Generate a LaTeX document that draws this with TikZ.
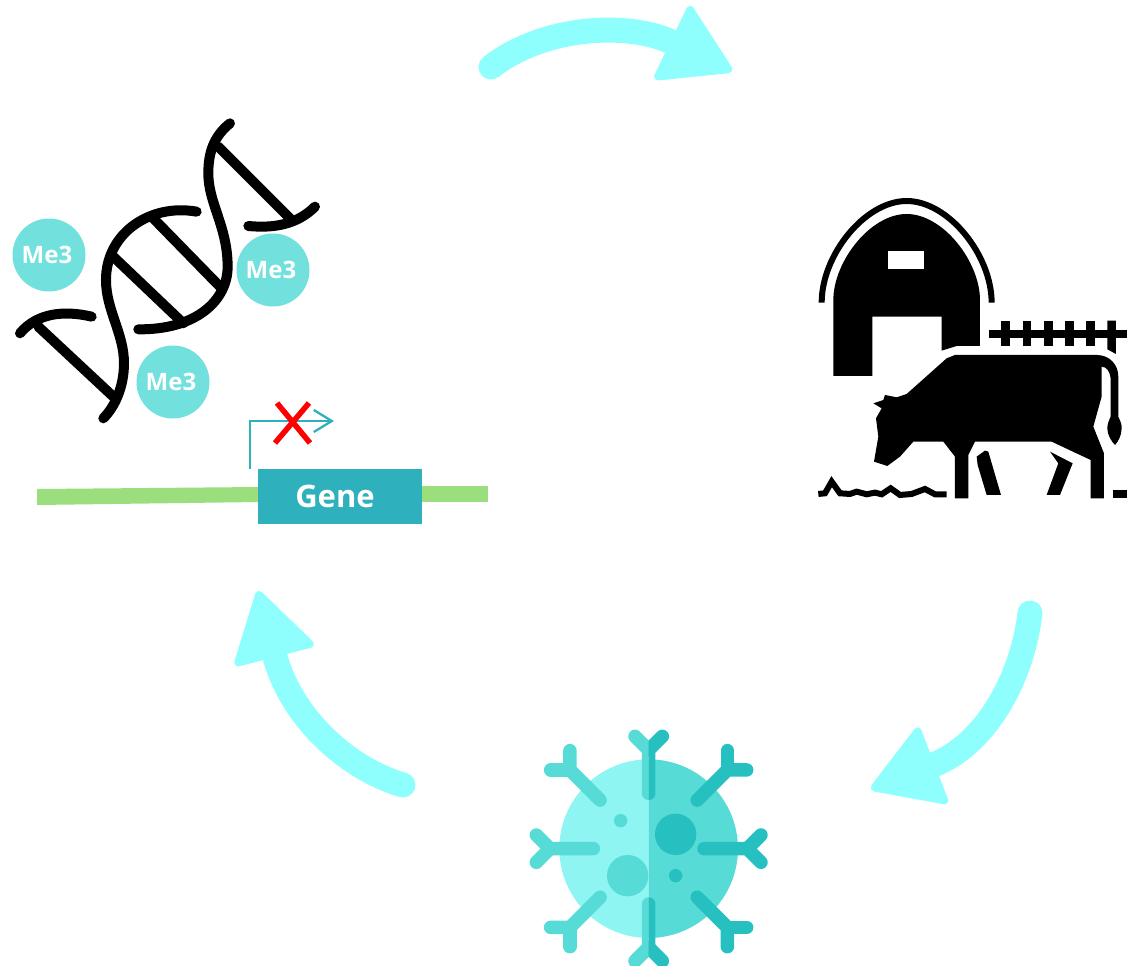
\documentclass[tikz,border=0pt]{standalone}
\usepackage{fontspec}
\setmainfont{Open Sans}
\usepackage{xcolor}
\usetikzlibrary{positioning,arrows.meta}
\definecolor{cycCol}{HTML}{8FFFFE}
\definecolor{meCol}{HTML}{72E0DD}
\definecolor{geneCol}{HTML}{2EB1BC}
\definecolor{lineCol}{HTML}{9BDE7E}
\definecolor{cellLight}{HTML}{8FF5F2}
\definecolor{cellMid}{HTML}{57DBD6}
\definecolor{cellDark}{HTML}{27C0C0}
\begin{document}
\begin{tikzpicture}[
        x=1pt, y=-1pt,
        cyc/.style={draw=cycCol, line width=25pt, line cap=round,
                    -{Triangle[length=72pt,width=86pt,round,line width=8pt]}},
        me/.style={circle, fill=meCol, minimum size=73pt, inner sep=0pt,
                   text=white, font=\bfseries\fontsize{24}{24}\selectfont},
        dna/.style={draw=black, line width=10pt, line cap=round, line join=round},
        arm/.style={line width=13.5pt, line cap=round, line join=round}
    ]
        \useasboundingbox (0,0) rectangle (1127,966);

        \coordinate (dnaout) at (491,67);
        \coordinate (barnin) at (732,71);
        \coordinate (barnout) at (1030,613);
        \coordinate (cellin) at (871,789);
        \coordinate (cellout) at (403,785);
        \coordinate (dnain) at (258,591);

        \draw[cyc] (dnaout) .. controls (545,25) and (630,22) .. (barnin);
        \draw[cyc] (barnout) .. controls (1022,680) and (985,745) .. (cellin);
        \draw[cyc] (cellout) .. controls (345,768) and (290,715) .. (dnain);

        \begin{scope}[shift={(0,110)},scale=0.3333]
            \draw[dna] (690,40) .. controls (640,80) and (625,130) .. (625,190)
                .. controls (625,280) and (683,350) .. (683,470)
                .. controls (683,570) and (590,660) .. (415,658);
            \draw[dna] (590,305) .. controls (450,280) and (318,370) .. (318,510)
                .. controls (318,600) and (372,670) .. (372,760)
                .. controls (372,830) and (345,890) .. (310,925);
            \draw[dna] (945,290) .. controls (890,345) and (820,355) .. (745,348);
            \draw[dna] (275,620) .. controls (190,600) and (110,610) .. (60,670);
            \draw[dna] (655,110) -- (870,325);
            \draw[dna] (115,650) -- (340,860);
            \draw[dna] (340,440) -- (550,640);
            \draw[dna] (455,320) -- (660,530);
        \end{scope}

        \node[me] (meleft) at (49,255) {\kern-4ptMe3};
        \node[me] (meright) at (273,270) {\kern-4ptMe3};
        \node[me] (mebottom) at (173,382) {\kern-4ptMe3};

        \fill[lineCol] (37,489) -- (260,487) -- (260,502) -- (37,505) -- cycle;
        \fill[lineCol] (420,486) rectangle (488,502);
        \node[fill=geneCol, text=white, minimum width=164pt, minimum height=55pt, inner sep=0pt,
              font=\bfseries\fontsize{31}{31}\selectfont] (gene) at (340,496) {\kern-10ptGene};

        \coordinate (promstart) at (250,469);
        \coordinate (promtip) at (334,421);
        \draw[geneCol, line width=2.3pt, -{Straight Barb[length=18pt,width=22pt]}] (promstart) |- (promtip);
        \draw[red, line width=5.5pt] (277,403) -- (310,443);
        \draw[red, line width=5.5pt] (309,403) -- (275,443);

        \begin{scope}[shift={(800,190)},scale=0.3333]
            \draw[line width=6pt] (65,338) .. controls (65,195) and (195,33) .. (320,33) .. controls (445,33) and (575,195) .. (575,338);
            \fill (100,558) -- (100,330) .. controls (100,216) and (210,72) .. (320,72) .. controls (430,72) and (540,216) .. (540,330)
                -- (540,468) -- (470,468) -- (425,482) -- (425,380) -- (217,380) -- (217,558) -- cycle;
            \fill[white] (265,182) rectangle (373,238);
            \fill (567,420) rectangle (981,445);
            \foreach \postx in {617,681,745,808,872} {
                \fill (\postx-13,392) rectangle (\postx+13,468);
            }
            \fill (922,392) -- (948,392) -- (948,492) -- (922,478) -- cycle;
            \fill (465,495) -- (890,495) .. controls (930,495) and (955,525) .. (955,560) -- (955,680)
                .. controls (962,695) and (966,705) .. (965,715) .. controls (965,735) and (955,755) .. (945,765)
                .. controls (935,755) and (922,735) .. (922,715) .. controls (922,700) and (928,690) .. (932,680)
                -- (932,565) .. controls (930,545) and (920,530) .. (905,530)
                -- (905,620) -- (880,710) -- (912,790) -- (912,925) -- (872,925) -- (872,810) -- (755,755) -- (525,755)
                -- (505,795) -- (505,925) -- (465,925) -- (465,800) -- (430,755) -- (340,755) -- (300,800)
                -- (262,828) -- (222,815) -- (235,740) -- (228,685) -- (245,655) -- (220,640) -- (250,630)
                -- (255,615) -- (290,622) -- (320,612) -- (440,505) -- cycle;
            \fill (530,800) -- (555,782) -- (565,785) -- (603,915) -- (560,915) -- (533,825) -- cycle;
            \fill (750,785) -- (818,820) -- (780,915) -- (740,915) -- (775,820) -- cycle;
            \draw[line width=6pt] (55,912) -- (75,910) -- (95,875) -- (120,910) -- (150,912) -- (170,905) -- (200,913)
                -- (225,908) -- (245,913) -- (272,895) -- (300,915) -- (335,912) -- (375,897) -- (405,913) -- (440,913);
            \fill (938,900) rectangle (981,925);
        \end{scope}

        \begin{scope}[shift={(520,720)},scale=0.3333]
            \foreach \xa/\xb/\colbody/\colarm in {0/386/cellLight/cellMid, 386/780/cellMid/cellDark} {
                \begin{scope}
                    \clip (\xa,0) rectangle (\xb,750);
                    \fill[\colbody] (386,386) circle (268);
                    \begin{scope}[shift={(386,386)}]
                        \foreach \ang/\ra/\rb in {0/166/296, 90/166/296, 180/166/296, 270/166/296,
                                                  45/206/334, 135/206/334, 225/206/334, 315/206/334} {
                            \draw[\colarm, arm] (\ang:\ra) -- (\ang:\rb) -- ++(\ang+45:58);
                            \draw[\colarm, arm] (\ang:\rb) -- ++(\ang-45:58);
                        }
                    \end{scope}
                \end{scope}
            }
            \fill[cellMid] (302,302) circle (20);
            \fill[cellMid] (323,467) circle (62);
            \fill[cellDark] (467,343) circle (62);
            \fill[cellDark] (467,467) circle (20);
        \end{scope}
    \end{tikzpicture}
\end{document}
